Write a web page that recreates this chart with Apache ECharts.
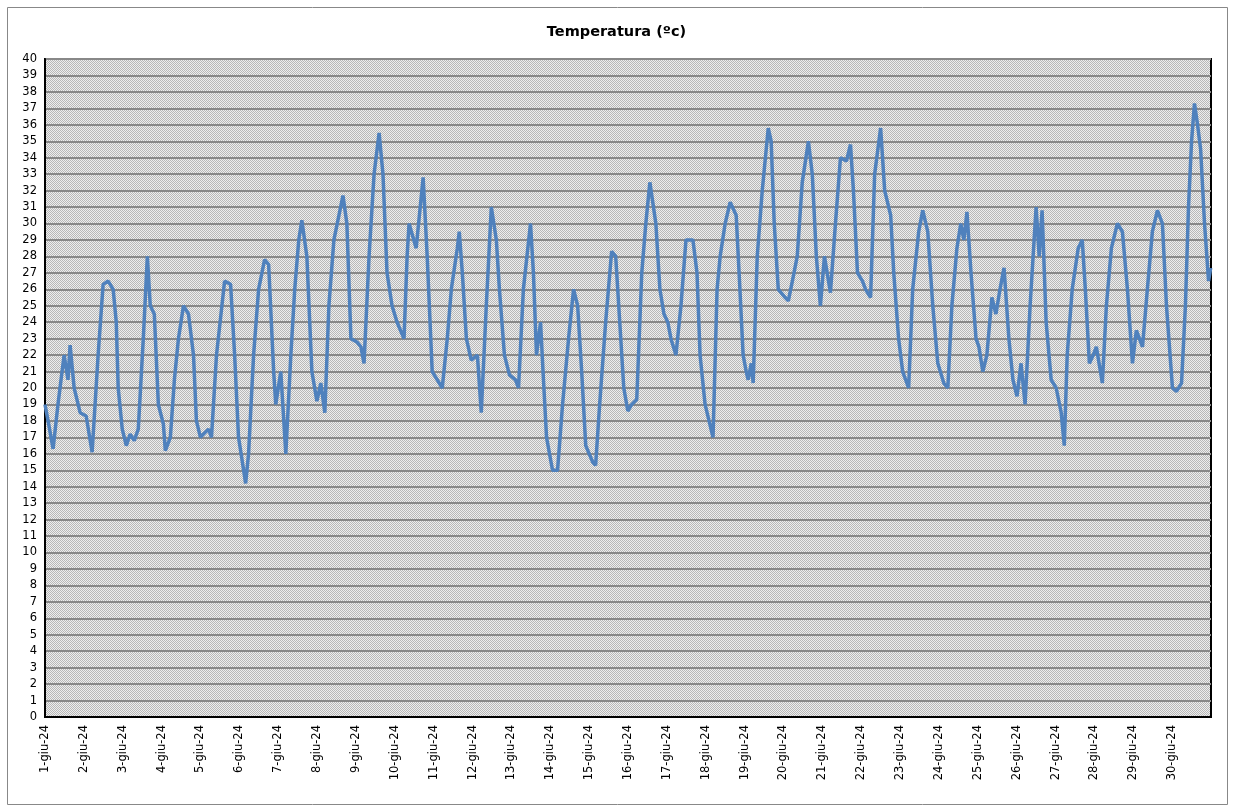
<!DOCTYPE html>
<html>
<head>
<meta charset="utf-8">
<script src="https://cdn.jsdelivr.net/npm/echarts@6/dist/echarts.min.js"></script>
<style>html,body{margin:0;padding:0;background:#fff}#c{width:1233px;height:810px}</style>
</head>
<body>
<div id="c"></div>
<script>
// hours from 1 June 00:00
const hours = [0,1.9,5,8,11.8,14.2,15.5,18,21.7,25.4,29.1,29.7,32.8,35.9,39,42.1,44,45.2,47.7,50.2,
52.6,55.1,57.6,60.7,63.2,65,67.5,70,73.1,74.3,77.4,79.9,82.4,85.5,88.6,91.7,93.5,96,97.9,101,
102.8,105.9,110.9,114.6,117.1,119.5,121.4,123.9,125.7,128.8,131.9,135.6,138.1,141.2,142.5,145.6,148.7,149.3,151.8,154.2,
156.7,158.6,161.7,164.8,167.9,170.3,172.8,175.3,178.4,184,186.4,188.9,192.6,195.1,197,200.1,203.2,206.3,208.7,211.2,
214.3,217.4,221.7,223.6,224.8,229.2,233.5,236,239.1,242.2,245.3,248.4,250.9,254.6,255.8,257.7,260.2,263.2,267,269.4,
272.5,275.6,278.7,280.6,283.7,286.8,290.5,292.4,295.4,299.8,301.6,303.5,306,307.8,309.7,313.4,316.5,319.6,323.3,326.4,
328.9,331.4,333.9,338.2,340,342.5,346.2,349.9,352.4,354.9,357.4,359.9,362.3,365.4,368.5,371,373.5,377.2,379.7,382.2,
384.6,386.5,389.6,392.7,395.8,400.1,402.6,404.5,407.6,412.5,415,416.9,420,423.1,426.8,428.6,431.1,433,434.2,436.1,
437.3,439.8,442.9,446.6,448.4,450.3,452.8,457.1,459,461.5,464.5,467.6,471.4,473.8,476.3,478.8,481.3,485,488.1,491.2,
494.9,497.4,499.2,501.7,504.8,506.7,509.8,512.3,516,518.5,522.2,524.1,527.1,529.6,533.3,535.8,539.5,542,545.1,548.2,
551.3,555,557.5,560,563.1,565.5,567.4,569.3,571.8,574.9,576.7,579.1,581.6,584.7,587.2,589.7,592.2,595.2,597.7,600.2,
602.7,605.2,608.3,612,613.9,615.7,618.2,621.3,624.4,627.5,629.4,631.2,634.3,638,640.5,642.4,644.9,647.3,649.2,652.9,
655.4,658.5,662.2,665.3,668.4,671.5,673.9,677.7,680.7,683.8,686.9,690,692.5,696.2,698.7,701.8,704.2,706.1,708,709.8,
711.7,713.6,716,718.5,719.8];
const temps = [19,18,16.3,19,22,20.5,22.6,20,18.5,18.3,16.1,16.2,22,26.3,26.5,26,24,20,17.5,16.5,
17.2,16.8,17.5,23,28,25,24.5,19,17.8,16.2,17,20.5,23,25,24.5,22,18,17,17.2,17.5,
17,22,26.5,26.3,22,17,15.8,14.2,16,22,26,27.8,27.5,21,19,21,16,16,22,26,
29,30.2,28,21,19.2,20.3,18.5,25,29,31.7,30,23,22.8,22.5,21.5,28,33,35.5,33,27,
25,24,23,28,30,28.5,32.8,28,21,20.5,20,23,26,28.5,29.5,27,23,21.7,22,18.5,
25,31,29,26,22,20.8,20.5,20,26,30,27,22,24,20.5,17,15,15,19,23,26,
25,21,16.5,15.5,15.3,19,24,28.3,28,24,20,18.6,19,19.3,27,30,32.5,30,26,24.5,
24,23,22,25,29,29,27,22,19,17,26,28,30,31.3,30.5,27,22,21,20.5,21.5,
20.3,28,32,35.8,35,30,26,25.5,25.3,26.5,28,32.5,35,33,28,25,28,25.8,30,34,
33.8,34.8,32,27,26.5,26,25.5,33,35.8,32,30.5,27,23,21,20,26,29.5,30.8,29.5,25,
21.5,20.3,20,25,28.5,30,29,30.7,27,23,22.5,21,22,25.5,24.5,26,27.3,23,20.5,19.5,
21.5,19,25,31,28,30.8,24,20.5,20,18.5,16.5,22,26,28.5,29,26,21.5,22,22.5,20.3,
25,28.5,30,29.5,26,21.5,23.5,22.5,26,29.5,30.8,30,25,20,19.8,20.3,25,31,35,37.3,
36,34.5,30,26.5,27.3];
const title = 'Temperatura (ºc)';

const cv = document.createElement('canvas');
cv.width = 2; cv.height = 2;
const cx = cv.getContext('2d');
cx.fillStyle = '#eeeeee'; cx.fillRect(0, 0, 2, 2);
cx.fillStyle = '#b8b8b8'; cx.fillRect(0, 0, 1, 1); cx.fillRect(1, 1, 1, 1);

const chart = echarts.init(document.getElementById('c'));
chart.setOption({
	animation: false,
	textStyle: {fontFamily: 'DejaVu Sans'},
	title: {text: title, left: 'center', top: 20, textStyle: {fontSize: 14.5, fontWeight: 'bold', color: '#000', fontFamily: 'DejaVu Sans'}},
	graphic: [{type: 'rect', shape: {x: 7.5, y: 7.5, width: 1220, height: 797}, style: {fill: 'none', stroke: '#888', lineWidth: 1}, z: -1}],
	grid: {left: 45, right: 22, top: 59, bottom: 93, show: true, backgroundColor: {image: cv, repeat: 'repeat'}, borderColor: '#000', borderWidth: 2},
	xAxis: {
		type: 'value', min: 0, max: 720, interval: 24,
		axisLine: {lineStyle: {color: '#000', width: 2}},
		axisTick: {show: false},
		splitLine: {show: false},
		axisLabel: {rotate: 90, color: '#000', fontSize: 11.5, showMaxLabel: false, margin: 8,
			formatter: v => (v / 24 + 1) + '-giu-24'}
	},
	yAxis: {
		type: 'value', min: 0, max: 40, interval: 1,
		axisLine: {show: true, lineStyle: {color: '#000', width: 2}},
		axisTick: {show: false},
		axisLabel: {color: '#000', fontSize: 11.5, margin: 8},
		splitLine: {lineStyle: {color: '#888', width: 2}}
	},
	series: [{
		type: 'line', showSymbol: false,
		data: hours.map((h, i) => [h, temps[i]]),
		lineStyle: {color: '#4f81bd', width: 3.5},
		itemStyle: {color: '#4f81bd'}
	}]
});
</script>
</body>
</html>
